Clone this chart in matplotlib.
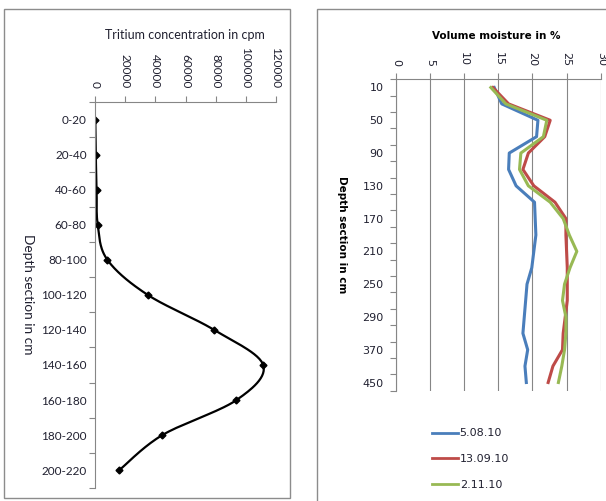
import numpy as np
import matplotlib
matplotlib.use("Agg")
import matplotlib.pyplot as plt
from matplotlib.patches import Rectangle
from matplotlib.ticker import FixedLocator, FuncFormatter

# tritium profile
sections = ['0-20', '20-40', '40-60', '60-80', '80-100', '100-120', '120-140',
            '140-160', '160-180', '180-200', '200-220']
tritium = [200, 500, 1100, 1800, 8200, 34900, 79000, 111500, 93800, 44600, 16100]

# volume moisture profiles
depths = [10, 30, 50, 70, 90, 110, 130, 150, 170, 190, 210, 230, 250, 270, 290,
          330, 370, 410, 450]
m_0508 = [14.4, 15.5, 20.8, 20.6, 16.6, 16.5, 17.6, 20.3, 20.4, 20.5, 20.2, 19.9,
          19.2, 19.0, 18.8, 18.6, 19.3, 18.9, 19.1]
m_1309 = [14.2, 16.5, 22.6, 21.8, 19.4, 18.6, 20.2, 23.3, 24.9, 24.9, 25.0, 25.1,
          25.1, 25.1, 24.8, 24.5, 24.4, 23.0, 22.3]
m_0211 = [13.9, 16.1, 22.1, 21.6, 18.3, 18.1, 19.4, 22.6, 24.5, 25.4, 26.5, 25.5,
          24.7, 24.4, 24.9, 24.9, 24.7, 24.3, 23.8]

W, H = 606, 501
fig = plt.figure(figsize=(W / 100, H / 100), dpi=100)
grey = '#868686'
txt = '#202030'


def box(x0, y0, x1, y1):
    return [x0 / W, 1 - y1 / H, (x1 - x0) / W, (y1 - y0) / H]


def smooth(ax, xs, ys, n=30):
    # bezier smoothing in screen space (catmull-rom style)
    pts = ax.transData.transform(np.column_stack([xs, ys]))
    P = np.vstack([pts[0], pts, pts[-1]])
    out = []
    for i in range(1, len(P) - 2):
        p0, p1, p2, p3 = P[i - 1], P[i], P[i + 1], P[i + 2]
        c1 = p1 + (p2 - p0) / 6
        c2 = p2 - (p3 - p1) / 6
        t = np.linspace(0, 1, n)[:, None]
        seg = ((1 - t) ** 3) * p1 + 3 * ((1 - t) ** 2) * t * c1 + 3 * (1 - t) * t ** 2 * c2 + t ** 3 * p2
        out.append(seg)
    out = np.vstack(out)
    return ax.transData.inverted().transform(out)


# chart frames
fig.patches.append(Rectangle((4 / W, 1 - 498 / H), 286 / W, 489 / H, transform=fig.transFigure,
                             fill=False, ec='#8c8c8c', lw=1))
fig.patches.append(Rectangle((317 / W, 1 - 510 / H), 300 / W, 501 / H, transform=fig.transFigure,
                             fill=False, ec='#8c8c8c', lw=1))

# ---- left: tritium ----
ax1 = fig.add_axes(box(95, 102, 276, 487.7))
ax1.set_xlim(0, 120000)
ax1.set_ylim(len(sections), 0)
yc = np.arange(len(sections)) + 0.5
ax1.figure.canvas.draw()
curve = smooth(ax1, tritium, yc)
ax1.plot(curve[:, 0], curve[:, 1], color='black', lw=1.6, solid_capstyle='round')
ax1.plot(tritium, yc, ls='none', marker='D', ms=3.5, color='black')

for s in ['bottom', 'right']:
    ax1.spines[s].set_visible(False)
for s in ['top', 'left']:
    ax1.spines[s].set_color(grey)
    ax1.spines[s].set_linewidth(0.8)
ax1.xaxis.tick_top()
ax1.set_xticks(np.arange(0, 120001, 20000))
ax1.xaxis.set_major_formatter(FuncFormatter(lambda v, p: '%d' % v))
ax1.tick_params(axis='x', direction='out', length=4, width=0.8, color=grey, pad=6,
                labelsize=8.5, labelcolor=txt, labelrotation=270)
for lab in ax1.get_xticklabels():
    lab.set_family('Lato')
ax1.yaxis.set_major_locator(FixedLocator(yc))
ax1.set_yticklabels(sections, family='Lato', fontsize=8.5, color=txt)
ax1.yaxis.set_minor_locator(FixedLocator(np.arange(len(sections) + 1)))
ax1.tick_params(axis='y', which='major', length=0, pad=6)
ax1.tick_params(axis='y', which='minor', direction='out', length=4, width=0.8, color=grey)

fig.text(185 / W, 1 - 35 / H, 'Tritium concentration in cpm', family='Lato', fontsize=9,
         color=txt, ha='center', va='center')
fig.text(28 / W, 1 - 294 / H, 'Depth section in cm', family='Lato', fontsize=9.8,
         color=txt, ha='center', va='center', rotation=270)

# ---- right: volume moisture ----
ax2 = fig.add_axes(box(396, 79.3, 600.7, 390.7))
ax2.set_xlim(0, 30)
ax2.set_ylim(len(depths), 0)
yd = np.arange(len(depths)) + 0.5
ax2.plot(m_0508, yd, color='#4A7EBB', lw=2.2, label='5.08.10')
ax2.plot(m_1309, yd, color='#BE4B48', lw=2.2, label='13.09.10')
ax2.plot(m_0211, yd, color='#98B954', lw=2.2, label='2.11.10')

ax2.xaxis.tick_top()
ax2.set_xticks(np.arange(0, 31, 5))
ax2.grid(axis='x', color=grey, lw=0.8)
ax2.set_axisbelow(True)
for s in ['bottom', 'right']:
    ax2.spines[s].set_visible(False)
for s in ['top', 'left']:
    ax2.spines[s].set_color(grey)
    ax2.spines[s].set_linewidth(0.8)
ax2.tick_params(axis='x', direction='out', length=4, width=0.8, color=grey, pad=5.5,
                labelsize=8, labelcolor=txt, labelrotation=270)
ax2.yaxis.set_major_locator(FixedLocator(yd[::2]))
ax2.set_yticklabels([str(d) for d in depths[::2]], fontsize=8, color=txt)
ax2.yaxis.set_minor_locator(FixedLocator(np.arange(len(depths) + 1)))
ax2.tick_params(axis='y', which='major', length=0, pad=9)
ax2.tick_params(axis='y', which='minor', direction='out', length=4, width=0.8, color=grey)

fig.text(496.7 / W, 1 - 36 / H, 'Volume moisture in %', fontsize=7.5, fontweight='bold',
         color='black', ha='center', va='center')
fig.text(341.7 / W, 1 - 235 / H, 'Depth section in cm', fontsize=7.5, fontweight='bold',
         color='black', ha='center', va='center', rotation=270)

leg = ax2.legend(loc='upper left', bbox_to_anchor=(428 / W, 1 - 424 / H),
                 bbox_transform=fig.transFigure, frameon=False, fontsize=8,
                 handlelength=2.3, handletextpad=0.15, labelspacing=1.4, borderaxespad=0)
for line in leg.get_lines():
    line.set_linewidth(2)
for t in leg.get_texts():
    t.set_color(txt)

fig.savefig('out.png', dpi=100)
